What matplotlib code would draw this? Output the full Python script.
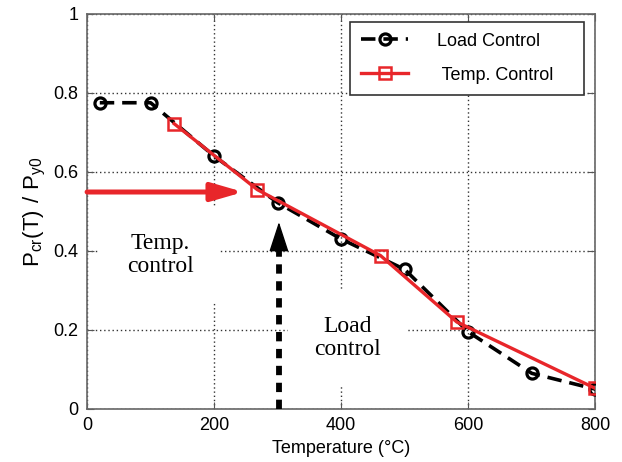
import matplotlib.pyplot as plt

# data
load_T = [20, 100, 200, 300, 400, 500, 600, 700, 800]
load_P = [0.775, 0.775, 0.64, 0.522, 0.43, 0.353, 0.195, 0.09, 0.05]
temp_T = [137, 268, 462, 582, 800]
temp_P = [0.722, 0.555, 0.388, 0.22, 0.052]

xticks = [0, 200, 400, 600, 800]
yticks = [0, 0.2, 0.4, 0.6, 0.8, 1]
ytick_labels = ['0', '0.2', '0.4', '0.6', '0.8', '1']

plt.rcParams['font.family'] = ['Liberation Sans', 'DejaVu Sans']

fig = plt.figure(figsize=(6.22, 4.62), dpi=100)
ax = fig.add_axes([0.140, 0.115, 0.817, 0.855])

ax.plot(load_T, load_P, color='black', ls=(0, (4, 2.2)), lw=2.6,
        marker='o', ms=8, mfc='none', mec='black', mew=2.3,
        label='Load Control', zorder=4)
ax.plot(temp_T, temp_P, color='#e8262a', lw=2.4,
        marker='s', ms=9, mfc='none', mec='#e8262a', mew=1.8,
        label=' Temp. Control    ', zorder=5)

# red arrow: temperature control
ax.annotate('', xy=(246, 0.549), xytext=(0, 0.549),
            arrowprops=dict(arrowstyle='-|>,head_length=1.9,head_width=0.55',
                            mutation_scale=10, color='#e8262a', lw=3.6,
                            shrinkA=0, shrinkB=0),
            zorder=3)
# black dashed arrow: load control (dashed shaft + solid head)
ax.plot([302, 302], [0.0, 0.42], color='black', lw=4.2,
        ls=(0, (1.6, 1.3)), zorder=3)
ax.annotate('', xy=(302, 0.473), xytext=(302, 0.43),
            arrowprops=dict(arrowstyle='-|>,head_length=1.9,head_width=0.62',
                            mutation_scale=10, color='black', lw=1,
                            shrinkA=0, shrinkB=0),
            zorder=3)

ax.text(115, 0.39, 'Temp.\ncontrol', family='Liberation Serif', fontsize=17,
        ha='center', va='center', linespacing=1.1, zorder=2,
        bbox=dict(facecolor='white', edgecolor='none', pad=19))
ax.text(410, 0.18, 'Load\ncontrol', family='Liberation Serif', fontsize=17,
        ha='center', va='center', linespacing=1.15, zorder=2,
        bbox=dict(facecolor='white', edgecolor='none', pad=19))

ax.set_xlim(0, 800)
ax.set_ylim(0, 1)
ax.set_xticks(xticks)
ax.set_yticks(yticks)
ax.set_yticklabels(ytick_labels)
ax.tick_params(direction='in', top=True, right=True, length=5,
               labelsize=13, color='#555555', pad=6)
for s in ax.spines.values():
    s.set_color('#666666')
    s.set_linewidth(1.2)
ax.grid(True, ls=(0, (1, 2)), color='#333333', lw=1.0)
ax.set_axisbelow(True)

ax.set_xlabel('Temperature (°C)', fontsize=13)
ax.set_ylabel(r'$\mathregular{P_{cr}(T)\ /\ P_{y0}}$', fontsize=16)

leg = ax.legend(loc='upper right', fontsize=13, fancybox=False,
                framealpha=1, edgecolor='#333333', handlelength=2.6,
                borderpad=0.6, labelspacing=0.95, handletextpad=1.6,
                borderaxespad=0, bbox_to_anchor=(0.978, 0.98))
leg.get_frame().set_linewidth(1.2)

fig.savefig('out.png', dpi=100)
